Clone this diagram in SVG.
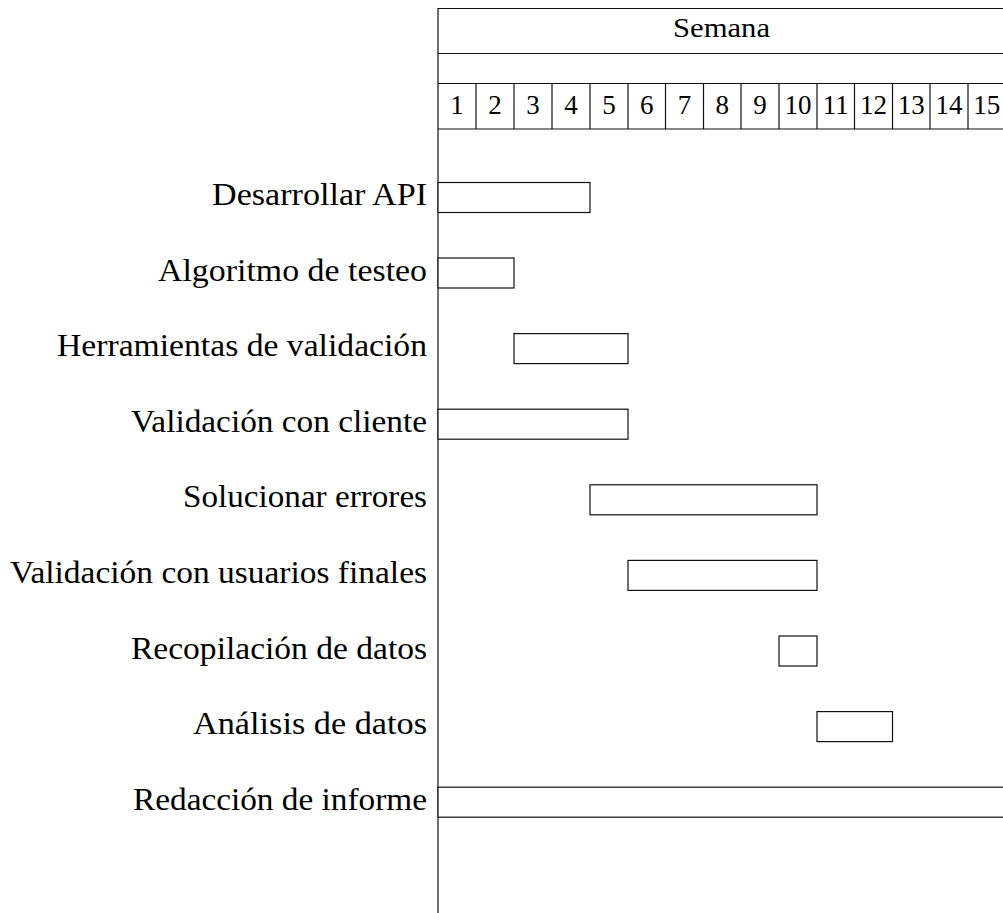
<svg xmlns="http://www.w3.org/2000/svg" width="1003" height="913" viewBox="0 0 1003 913">
<style>
.ln{stroke:#111;stroke-width:1.2;fill:none}
.bar{stroke:#111;stroke-width:1.2;fill:#fff}
.lbl{font-family:"Liberation Serif","DejaVu Serif",serif;font-size:32px;fill:#000;text-anchor:end}
.hd{font-family:"Liberation Serif","DejaVu Serif",serif;font-size:28px;fill:#000;text-anchor:middle}
.num{font-family:"Liberation Serif","DejaVu Serif",serif;font-size:27px;fill:#000;text-anchor:middle}
</style>
<rect width="1003" height="913" fill="#fff"/>
<g id="grid">
<line class="ln" x1="438" y1="8" x2="438" y2="913"/>
<line class="ln" x1="438" y1="8.5" x2="1003" y2="8.5"/>
<line class="ln" x1="438" y1="53.5" x2="1003" y2="53.5"/>
<line class="ln" x1="438" y1="83.5" x2="1003" y2="83.5"/>
<line class="ln" x1="438" y1="129" x2="1003" y2="129"/>
<line class="ln" x1="476" y1="83.5" x2="476" y2="129"/>
<line class="ln" x1="514" y1="83.5" x2="514" y2="129"/>
<line class="ln" x1="552" y1="83.5" x2="552" y2="129"/>
<line class="ln" x1="590" y1="83.5" x2="590" y2="129"/>
<line class="ln" x1="628" y1="83.5" x2="628" y2="129"/>
<line class="ln" x1="665.5" y1="83.5" x2="665.5" y2="129"/>
<line class="ln" x1="703.5" y1="83.5" x2="703.5" y2="129"/>
<line class="ln" x1="741" y1="83.5" x2="741" y2="129"/>
<line class="ln" x1="779" y1="83.5" x2="779" y2="129"/>
<line class="ln" x1="817" y1="83.5" x2="817" y2="129"/>
<line class="ln" x1="854.5" y1="83.5" x2="854.5" y2="129"/>
<line class="ln" x1="892.5" y1="83.5" x2="892.5" y2="129"/>
<line class="ln" x1="930" y1="83.5" x2="930" y2="129"/>
<line class="ln" x1="968" y1="83.5" x2="968" y2="129"/>
</g>
<g id="header">
<text class="hd" x="721.5" y="36.7" textLength="97" lengthAdjust="spacingAndGlyphs">Semana</text>
<text class="num" x="457" y="113.5">1</text>
<text class="num" x="495" y="113.5">2</text>
<text class="num" x="533" y="113.5">3</text>
<text class="num" x="571" y="113.5">4</text>
<text class="num" x="609" y="113.5">5</text>
<text class="num" x="646.8" y="113.5">6</text>
<text class="num" x="684.5" y="113.5">7</text>
<text class="num" x="722.3" y="113.5">8</text>
<text class="num" x="760" y="113.5">9</text>
<text class="num" x="798" y="113.5">10</text>
<text class="num" x="835.8" y="113.5">11</text>
<text class="num" x="873.5" y="113.5">12</text>
<text class="num" x="911.3" y="113.5">13</text>
<text class="num" x="949" y="113.5">14</text>
<text class="num" x="986.8" y="113.5">15</text>
</g>
<g id="task1">
<text class="lbl" x="427" y="205" textLength="215" lengthAdjust="spacingAndGlyphs">Desarrollar API</text>
<rect class="bar" x="438" y="182.5" width="152" height="30"/>
</g>
<g id="task2">
<text class="lbl" x="427" y="280.6" textLength="269" lengthAdjust="spacingAndGlyphs">Algoritmo de testeo</text>
<rect class="bar" x="438" y="258" width="76" height="30"/>
</g>
<g id="task3">
<text class="lbl" x="427" y="356.2" textLength="370" lengthAdjust="spacingAndGlyphs">Herramientas de validación</text>
<rect class="bar" x="514" y="333.6" width="114" height="30"/>
</g>
<g id="task4">
<text class="lbl" x="427" y="431.8" textLength="296" lengthAdjust="spacingAndGlyphs">Validación con cliente</text>
<rect class="bar" x="438" y="409.2" width="190" height="30"/>
</g>
<g id="task5">
<text class="lbl" x="427" y="507.4" textLength="244" lengthAdjust="spacingAndGlyphs">Solucionar errores</text>
<rect class="bar" x="590" y="484.8" width="227" height="30"/>
</g>
<g id="task6">
<text class="lbl" x="427" y="583" textLength="417" lengthAdjust="spacingAndGlyphs">Validación con usuarios finales</text>
<rect class="bar" x="628" y="560.4" width="189" height="30"/>
</g>
<g id="task7">
<text class="lbl" x="427" y="658.6" textLength="296" lengthAdjust="spacingAndGlyphs">Recopilación de datos</text>
<rect class="bar" x="779" y="636" width="38" height="30"/>
</g>
<g id="task8">
<text class="lbl" x="427" y="734.2" textLength="234" lengthAdjust="spacingAndGlyphs">Análisis de datos</text>
<rect class="bar" x="817" y="711.6" width="75.5" height="30"/>
</g>
<g id="task9">
<text class="lbl" x="427" y="809.8" textLength="294" lengthAdjust="spacingAndGlyphs">Redacción de informe</text>
<rect class="bar" x="438" y="787.2" width="570" height="30"/>
</g>
</svg>
